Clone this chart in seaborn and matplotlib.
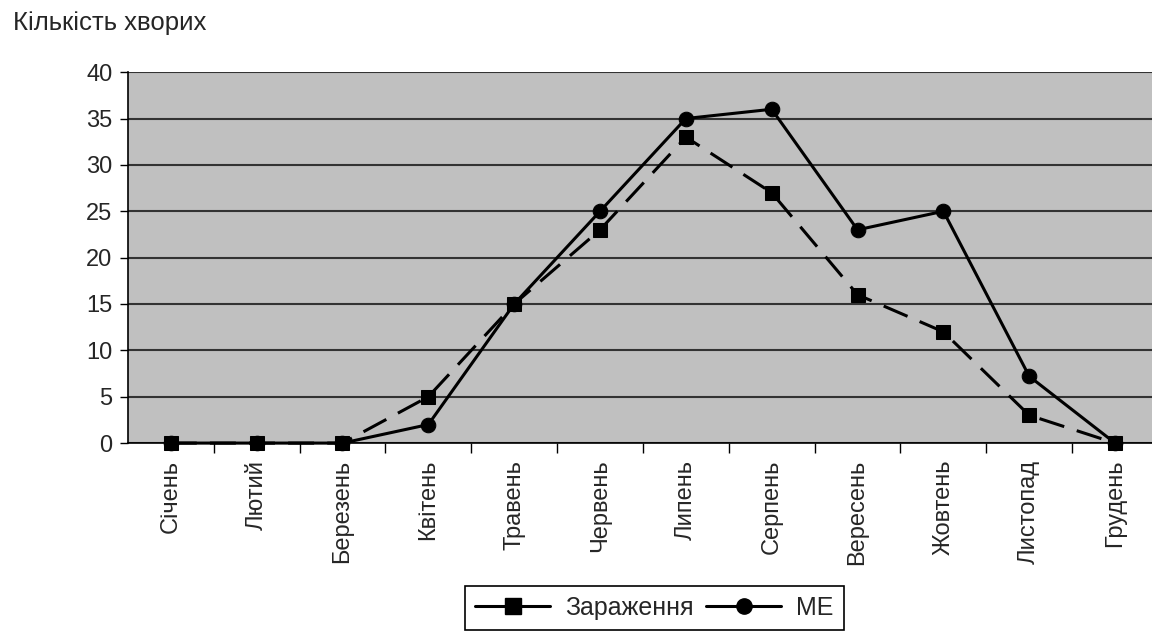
import matplotlib
matplotlib.use('Agg')
import matplotlib.pyplot as plt
from matplotlib.lines import Line2D
from matplotlib.ticker import FixedLocator
import pandas
import seaborn as sns

months = ['Січень', 'Лютий', 'Березень', 'Квітень', 'Травень', 'Червень',
          'Липень', 'Серпень', 'Вересень', 'Жовтень', 'Листопад', 'Грудень']
infection = [0, 0, 0, 5, 15, 23, 33, 27, 16, 12, 3, 0]
me = [0, 0, 0, 2, 15, 25, 35, 36, 23, 25, 7.2, 0]
series_names = ['Зараження', 'МЕ']
y_ticks = [0, 5, 10, 15, 20, 25, 30, 35, 40]

sns.set_style('white')
plt.rcParams['font.family'] = ['Liberation Sans', 'DejaVu Sans']

data = pandas.DataFrame({
    'month': months * 2,
    'value': infection + me,
    'series': [series_names[0]] * len(months) + [series_names[1]] * len(months),
})

fig = plt.figure(figsize=(11.52, 6.33), dpi=100)
ax = fig.add_axes([0.111, 0.300, 0.889, 0.586])
ax.set_facecolor('#c0c0c0')

sns.lineplot(data=data[data.series == series_names[1]], x='month', y='value',
             sort=False, color='black', lw=2.2, marker='o', markersize=10.5,
             markeredgecolor='black', ax=ax, zorder=4, clip_on=False)
sns.lineplot(data=data[data.series == series_names[0]], x='month', y='value',
             sort=False, color='black', lw=2.2, marker='s', markersize=10.5,
             markeredgecolor='black', dashes=False, ax=ax, zorder=5, clip_on=False)
ax.lines[-1].set_dashes([8.5, 4.3])

ax.set_ylim(0, 40)
ax.set_xlim(-0.5, 11.43)
ax.set_yticks(y_ticks)
ax.yaxis.grid(True, color='#333333', lw=1.5)
ax.set_axisbelow(True)
ax.tick_params(axis='y', labelsize=17, length=6, width=1, color='black', left=True, pad=5)
ax.tick_params(axis='x', which='major', labelsize=17, length=0, rotation=90, pad=12)
ax.xaxis.set_minor_locator(FixedLocator([i - 0.5 for i in range(1, len(months) + 1)]))
ax.tick_params(axis='x', which='minor', length=7, width=1, color='black', bottom=True)
for side in ['top', 'right']:
    ax.spines[side].set_visible(False)
for side in ['left', 'bottom']:
    ax.spines[side].set_color('black')
    ax.spines[side].set_linewidth(1.2)
ax.set_xlabel('')
ax.set_ylabel('')

fig.text(0.011, 0.963, 'Кількість хворих', fontsize=18.5, va='center', ha='left')

handles = [
    Line2D([], [], color='black', lw=2.2, marker='s', markersize=11),
    Line2D([], [], color='black', lw=2.2, marker='o', markersize=11),
]
leg = fig.legend(handles, series_names, loc='upper center', bbox_to_anchor=(0.568, 0.074),
                 ncol=2, fontsize=18, frameon=True, fancybox=False, framealpha=1,
                 edgecolor='black', handlelength=3.0, columnspacing=0.5,
                 handletextpad=0.6, borderpad=0.4, borderaxespad=0)
leg.get_frame().set_linewidth(1.2)

fig.savefig('out.png', dpi=100)
